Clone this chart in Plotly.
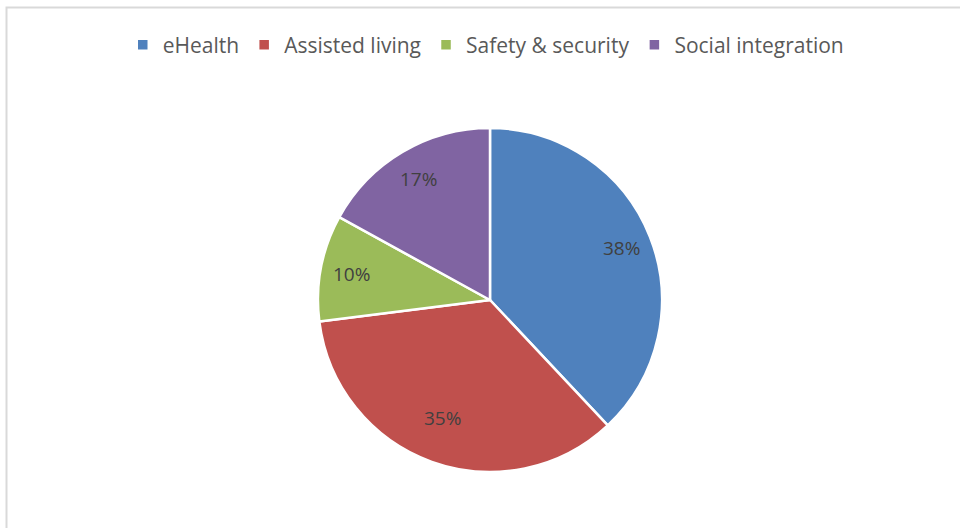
import math
import plotly.graph_objects as go

# Share of projects by application domain
categories = ["eHealth", "Assisted living", "Safety & security", "Social integration"]
shares = [38, 35, 10, 17]
colors = ["#4F81BD", "#C0504D", "#9BBB59", "#8064A2"]

W, H = 960, 528
FONT = "Open Sans"

# pie placement (paper fractions)
dom_x = [318 / W, 662 / W]
dom_y = [(H - 472) / H, (H - 128) / H]

fig = go.Figure(
    go.Pie(
        labels=categories,
        values=shares,
        sort=False,
        direction="clockwise",
        rotation=0,
        marker=dict(colors=colors, line=dict(color="white", width=2.5)),
        textinfo="none",
        hoverinfo="label+percent",
        domain=dict(x=dom_x, y=dom_y),
    )
)

# percentage labels placed along each slice's bisector, near the rim
cx = (dom_x[0] + dom_x[1]) / 2 * W
cy = (1 - (dom_y[0] + dom_y[1]) / 2) * H
R = min((dom_x[1] - dom_x[0]) * W, (dom_y[1] - dom_y[0]) * H) / 2
total = sum(shares)
cum = 0
for v in shares:
    mid = (cum + v / 2) / total * 2 * math.pi
    cum += v
    px = cx + 0.82 * R * math.sin(mid)
    py = cy - 0.82 * R * math.cos(mid)
    fig.add_annotation(
        x=px / W, y=1 - py / H, xref="paper", yref="paper",
        text=f"{round(v / total * 100)}%", showarrow=False,
        font=dict(family=FONT, size=19, color="#404040"),
    )

fig.update_layout(
    width=W, height=H,
    margin=dict(l=0, r=0, t=0, b=0),
    paper_bgcolor="white",
    plot_bgcolor="white",
    showlegend=True,
    legend=dict(
        orientation="h", x=0.506, xanchor="center", y=1 - 45 / H, yanchor="middle",
        font=dict(family=FONT, size=21, color="#595959"),
        itemwidth=30, tracegroupgap=0,
    ),
    shapes=[dict(
        type="rect", xref="paper", yref="paper",
        x0=6.5 / W, x1=1.2, y0=-0.2, y1=1 - 7.5 / H,
        line=dict(color="#D9D9D9", width=2), fillcolor="rgba(0,0,0,0)", layer="below",
    )],
)

fig.write_html("out.html")
